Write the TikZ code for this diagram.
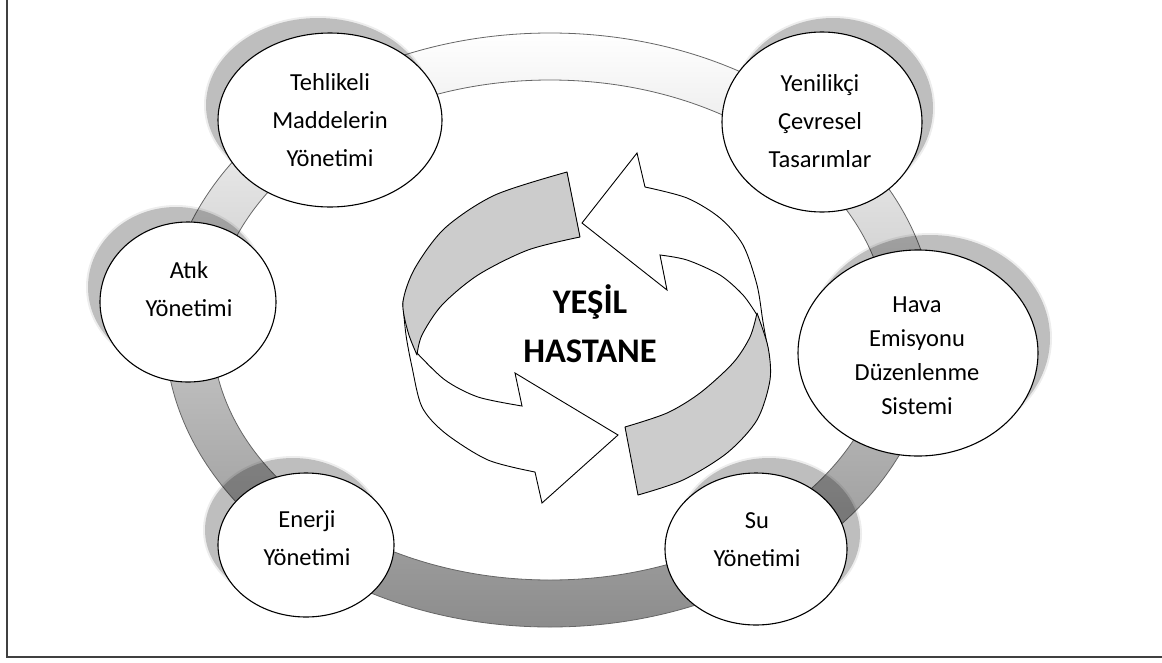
\documentclass[tikz,border=0pt]{standalone}
\usepackage{fontspec}
\setmainfont{Carlito}
\usetikzlibrary{shapes.geometric}
\definecolor{arrowgray}{HTML}{CCCCCC}
\newcommand\mysoftshadow[4]{%
  \fill[black,opacity=0.07] (#1,#2) ellipse [x radius=#3pt+2pt, y radius=#4pt+2pt];
  \fill[black,opacity=0.20] (#1,#2) ellipse [x radius=#3pt, y radius=#4pt];}
\begin{document}
\begin{tikzpicture}[x=1pt,y=-1pt,
  bubble/.style={ellipse, draw=black, line width=1.1pt, fill=white, inner sep=0pt, outer sep=0pt},
  lbl/.style={align=center, inner sep=0pt, font=\fontsize{24.5}{38}\selectfont},
  grayarrow/.style={fill=arrowgray, draw=black, line width=0.9pt, line join=round},
  whitearrow/.style={fill=white, draw=black, line width=0.9pt, line join=miter},
  ringband/.style={draw=black!60, line width=0.8pt, even odd rule, top color=white, bottom color=black!45}]
\useasboundingbox (0,0) rectangle (1162,662);
% frame
\draw[line width=1.6pt, black!75] (7,0) -- (7,657) -- (1162,657);
% ring
\path[ringband] (550,330) ellipse [x radius=385pt, y radius=297pt]
                (550,330) ellipse [x radius=338pt, y radius=250pt];
% shadows
\mysoftshadow{318}{105}{112}{87}
\mysoftshadow{176}{287}{88}{80}
\mysoftshadow{293}{530}{88}{72}
\mysoftshadow{833}{108}{100}{90}
\mysoftshadow{930}{338}{120}{103}
\mysoftshadow{769}{534}{91}{76}
% bubbles
\node[bubble, minimum width=224pt, minimum height=174pt] (teh) at (330,120) {};
\node[bubble, minimum width=176pt, minimum height=160pt] (atik) at (188,302) {};
\node[bubble, minimum width=176pt, minimum height=144pt] (ener) at (306,545) {};
\node[bubble, minimum width=200pt, minimum height=180pt] (yeni) at (822,122) {};
\node[bubble, minimum width=240pt, minimum height=206pt] (hava) at (918,353) {};
\node[bubble, minimum width=182pt, minimum height=152pt] (su) at (756,549) {};
% labels
\node[lbl] (tehT) at (330,120) {Tehlikeli\\Maddelerin\\Yönetimi};
\node[lbl] (atikT) at (189,289) {Atık\\Yönetimi};
\node[lbl] (enerT) at (307,538) {Enerji\\Yönetimi};
\node[lbl] (yeniT) at (820,121) {Yenilikçi\\Çevresel\\Tasarımlar};
\node[lbl, font=\fontsize{24.5}{34}\selectfont] (havaT) at (917,356) {Hava\\Emisyonu\\Düzenlenme\\Sistemi};
\node[lbl] (suT) at (757,540) {Su\\Yönetimi};
% circular arrows
\path[whitearrow] (582,223) -- (637,153) -- (645,187)
  -- plot[smooth] coordinates {(645,187) (687,198) (720,218) (743,245) (757,285) (763,322) (769,355)}
  -- (757,315)
  -- plot[smooth] coordinates {(757,315) (743,295) (720,275) (687,260) (660,255)}
  -- (667,290) -- cycle;
\path[grayarrow] (625,427) -- (638,495)
  -- plot[smooth] coordinates {(638,495) (683,480) (727,453) (757,420) (770,380) (768,347) (757,313)}
  -- plot[smooth] coordinates {(757,313) (750,337) (733,363) (700,393) (667,413) (625,427)}
  -- cycle;
\path[whitearrow] (403,305)
  -- plot[smooth] coordinates {(403,305) (406,335) (412,367) (422,407) (445,433) (488,460) (535,472)}
  -- (542,503) -- (618,435) -- (515,373) -- (522,406)
  -- plot[smooth] coordinates {(522,406) (478,397) (445,380) (417,353)}
  -- cycle;
\path[grayarrow] (567,172) -- (580,237)
  -- plot[smooth] coordinates {(580,237) (528,250) (478,275) (442,305) (422,335) (417,355)}
  -- plot[smooth] coordinates {(417,355) (408,332) (403,302) (415,268) (445,228) (495,195) (567,172)}
  -- cycle;
\node[align=center, inner sep=0pt, font=\bfseries\fontsize{34.5}{49}\selectfont] (center) at (590,324) {YEŞİL\\HASTANE};
\end{tikzpicture}
\end{document}
